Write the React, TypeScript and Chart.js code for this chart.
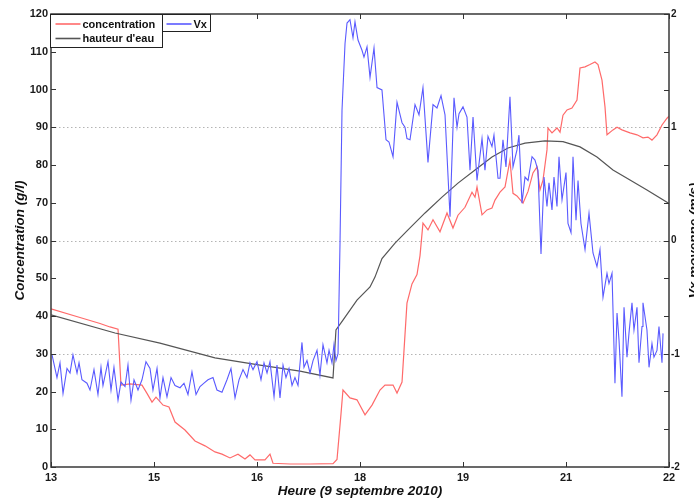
import React, { useEffect, useRef } from 'react';
import { Chart, registerables } from 'chart.js';

Chart.register(...registerables);

// ---------- data (hours of 9 Sept 2010) ----------
const concTime = [13.000, 13.422, 13.714, 13.859, 13.976, 14.019, 14.150, 14.325, 14.398, 14.471, 14.529, 14.631, 14.718, 14.806, 14.951, 15.097, 15.243, 15.388, 15.490, 15.607, 15.723, 15.825, 15.898, 15.971, 16.116, 16.189, 16.233, 16.481, 16.772, 17.107, 17.165, 17.223, 17.252, 17.354, 17.456, 17.573, 17.675, 17.791, 17.864, 17.981, 18.039, 18.112, 18.155, 18.184, 18.257, 18.330, 18.374, 18.417, 18.490, 18.563, 18.665, 18.767, 18.854, 18.927, 19.029, 19.131, 19.175, 19.204, 19.277, 19.349, 19.422, 19.466, 19.539, 19.612, 19.684, 19.728, 19.786, 19.874, 19.947, 20.019, 20.078, 20.121, 20.165, 20.223, 20.238, 20.296, 20.369, 20.413, 20.456, 20.515, 20.587, 20.660, 20.704, 20.777, 20.849, 20.922, 20.966, 21.024, 21.068, 21.097, 21.184, 21.243, 21.315, 21.432, 21.534, 21.621, 21.694, 21.752, 21.825, 21.898, 21.971, 22.000];
const concValue = [41.9, 39.6, 38.0, 37.1, 36.5, 21.7, 22.0, 21.7, 19.5, 17.2, 18.5, 16.4, 15.9, 11.9, 9.8, 6.9, 5.6, 4.0, 3.4, 2.4, 3.4, 2.1, 3.2, 1.9, 1.9, 3.4, 1.0, 0.8, 0.8, 0.9, 2.0, 14.0, 20.4, 18.3, 17.8, 13.8, 16.4, 20.4, 21.7, 21.7, 19.6, 22.5, 35.0, 43.4, 48.5, 51.0, 56.0, 64.6, 62.8, 65.5, 62.3, 67.3, 63.3, 66.7, 68.8, 72.8, 71.5, 74.2, 66.8, 68.1, 68.6, 70.7, 72.8, 74.2, 81.3, 72.5, 71.8, 69.9, 73.0, 77.9, 79.5, 73.4, 76.0, 84.0, 89.8, 88.5, 89.8, 88.7, 93.2, 94.6, 95.1, 97.2, 105.7, 106.0, 106.6, 107.3, 106.6, 102.5, 95.4, 88.0, 89.3, 90.0, 89.3, 88.5, 88.0, 87.2, 87.4, 86.6, 88.0, 90.6, 92.4, 92.9];

const hauteurTime = [13.000, 13.932, 14.587, 15.388, 16.044, 16.626, 17.107, 17.150, 17.252, 17.456, 17.646, 17.718, 17.820, 18.010, 18.199, 18.447, 18.694, 18.927, 19.175, 19.422, 19.655, 19.903, 20.194, 20.456, 20.704, 20.951, 21.184, 21.432, 21.679, 22.000];
const hauteurValue = [40.3, 35.5, 32.8, 28.9, 27.0, 25.4, 23.6, 36.3, 38.9, 44.2, 47.7, 50.3, 55.2, 59.3, 62.8, 67.3, 71.5, 75.2, 78.7, 82.1, 84.5, 85.8, 86.4, 86.2, 84.8, 82.1, 78.7, 76.0, 73.4, 69.8];

const vxTime = [13.015, 13.087, 13.131, 13.175, 13.233, 13.277, 13.320, 13.379, 13.408, 13.451, 13.524, 13.568, 13.626, 13.684, 13.728, 13.757, 13.830, 13.874, 13.917, 13.976, 14.019, 14.078, 14.121, 14.165, 14.209, 14.267, 14.325, 14.383, 14.442, 14.485, 14.544, 14.587, 14.631, 14.689, 14.748, 14.806, 14.879, 14.937, 14.995, 15.053, 15.112, 15.170, 15.228, 15.286, 15.359, 15.417, 15.490, 15.563, 15.621, 15.680, 15.738, 15.796, 15.854, 15.898, 15.942, 16.000, 16.058, 16.102, 16.146, 16.189, 16.248, 16.291, 16.335, 16.379, 16.422, 16.466, 16.510, 16.553, 16.597, 16.655, 16.684, 16.728, 16.772, 16.816, 16.874, 16.917, 16.961, 17.019, 17.049, 17.092, 17.121, 17.150, 17.180, 17.209, 17.238, 17.282, 17.311, 17.354, 17.398, 17.427, 17.471, 17.529, 17.558, 17.602, 17.646, 17.704, 17.748, 17.820, 17.879, 17.922, 17.981, 18.039, 18.112, 18.155, 18.184, 18.228, 18.301, 18.359, 18.417, 18.490, 18.563, 18.621, 18.680, 18.738, 18.811, 18.869, 18.913, 18.942, 19.000, 19.058, 19.102, 19.146, 19.204, 19.277, 19.320, 19.364, 19.422, 19.451, 19.510, 19.539, 19.582, 19.626, 19.684, 19.728, 19.786, 19.815, 19.859, 19.903, 19.947, 20.005, 20.048, 20.092, 20.136, 20.180, 20.223, 20.252, 20.296, 20.325, 20.369, 20.398, 20.442, 20.500, 20.529, 20.573, 20.602, 20.646, 20.675, 20.718, 20.777, 20.835, 20.893, 20.951, 20.995, 21.039, 21.097, 21.126, 21.170, 21.213, 21.243, 21.272, 21.315, 21.345, 21.388, 21.417, 21.461, 21.490, 21.534, 21.563, 21.607, 21.621, 21.679, 21.709, 21.752, 21.781, 21.825, 21.854, 21.898, 21.913];
const vxValue = [-1.01, -1.21, -1.08, -1.35, -1.13, -1.17, -1.01, -1.17, -1.08, -1.23, -1.26, -1.32, -1.14, -1.36, -1.12, -1.28, -1.07, -1.32, -1.12, -1.41, -1.25, -1.29, -1.10, -1.41, -1.23, -1.32, -1.23, -1.07, -1.13, -1.32, -1.13, -1.39, -1.21, -1.38, -1.21, -1.28, -1.30, -1.26, -1.36, -1.16, -1.36, -1.29, -1.26, -1.23, -1.21, -1.32, -1.34, -1.23, -1.13, -1.39, -1.23, -1.14, -1.21, -1.08, -1.14, -1.07, -1.23, -1.08, -1.17, -1.07, -1.38, -1.10, -1.39, -1.10, -1.21, -1.13, -1.28, -1.21, -1.28, -0.90, -1.12, -1.06, -1.17, -1.06, -0.97, -1.19, -0.92, -1.08, -0.97, -1.08, -0.92, -1.06, -1.00, -0.02, 1.15, 1.74, 1.92, 1.95, 1.79, 1.93, 1.77, 1.68, 1.62, 1.71, 1.44, 1.70, 1.35, 1.33, 0.89, 0.87, 0.74, 1.22, 1.04, 1.00, 0.90, 0.89, 1.20, 1.11, 1.35, 0.69, 1.20, 1.17, 1.28, 1.11, 0.21, 1.26, 1.00, 1.12, 1.18, 1.09, 0.62, 1.09, 0.53, 0.90, 0.62, 0.92, 0.83, 0.93, 0.55, 0.55, 0.89, 0.65, 1.27, 0.65, 0.80, 0.93, 0.33, 0.56, 0.53, 0.74, 0.71, 0.62, -0.12, 0.56, 0.30, 0.51, 0.27, 0.56, 0.30, 0.74, 0.36, 0.60, 0.15, 0.07, 0.74, 0.18, 0.53, 0.15, -0.08, 0.24, -0.11, -0.23, -0.08, -0.50, -0.29, -0.38, -0.29, -1.26, -0.64, -0.88, -1.38, -0.59, -1.03, -0.82, -0.55, -0.79, -0.59, -1.08, -0.76, -0.55, -0.79, -1.12, -0.91, -1.03, -0.97, -0.76, -1.08, -0.82];

const seriesNames = ['concentration', "hauteur d'eau", 'Vx'];
const seriesColors = ['#ff6a6a', '#555555', '#5a5aff'];

// ---------- axes ----------
const xTickValues = [13, 14.5, 16, 17.5, 19, 20.5, 22];
const xTickLabels = ['13', '15', '16', '18', '19', '21', '22'];
const concTickValues = [0, 10, 20, 30, 40, 50, 60, 70, 80, 90, 100, 110, 120];
const concTickLabels = ['0', '10', '20', '30', '40', '50', '60', '70', '80', '90', '100', '110', '120'];
const vxTickValues = [-2, -5 / 3, -4 / 3, -1, -2 / 3, -1 / 3, 0, 1 / 3, 2 / 3, 1, 4 / 3, 5 / 3, 2];
const vxTickLabels = ['-2', '', '', '-1', '', '', '0', '', '', '1', '', '', '2'];
const vxGridValues = [-1, 0, 1];

const xTitle = 'Heure (9 septembre 2010)';
const concTitle = 'Concentration (g/l)';
const vxTitle = 'Vx moyenne (m/s)';

const FONT = "'Liberation Sans', Arial, Helvetica, sans-serif";

const matlabPlugin = {
  id: 'matlabLook',
  beforeDatasetsDraw(chart: any) {
    const { ctx, chartArea: a, scales } = chart;
    const yr = scales.yVx;
    ctx.save();
    ctx.strokeStyle = '#b4b4b4';
    ctx.lineWidth = 1;
    ctx.setLineDash([1.5, 2.5]);
    for (const v of vxGridValues) {
      const y = Math.round(yr.getPixelForValue(v)) + 0.5;
      ctx.beginPath();
      ctx.moveTo(a.left, y);
      ctx.lineTo(a.right, y);
      ctx.stroke();
    }
    ctx.restore();
  },
  afterDatasetsDraw(chart: any) {
    const { ctx, chartArea: a, scales } = chart;
    ctx.save();
    // frame
    ctx.strokeStyle = '#444';
    ctx.lineWidth = 1.6;
    ctx.strokeRect(a.left, a.top, a.right - a.left, a.bottom - a.top);
    // inward ticks
    ctx.lineWidth = 1;
    ctx.strokeStyle = '#333';
    const TL = 5;
    ctx.beginPath();
    for (const t of scales.x.ticks) {
      const px = Math.round(scales.x.getPixelForValue(t.value)) + 0.5;
      ctx.moveTo(px, a.bottom);
      ctx.lineTo(px, a.bottom - TL);
      ctx.moveTo(px, a.top);
      ctx.lineTo(px, a.top + TL);
    }
    for (const t of scales.yConc.ticks) {
      const py = Math.round(scales.yConc.getPixelForValue(t.value)) + 0.5;
      ctx.moveTo(a.left, py);
      ctx.lineTo(a.left + TL, py);
    }
    for (const t of scales.yVx.ticks) {
      const py = Math.round(scales.yVx.getPixelForValue(t.value)) + 0.5;
      ctx.moveTo(a.right, py);
      ctx.lineTo(a.right - TL, py);
    }
    ctx.stroke();

    // legend boxes
    const lx = a.left - 0.5;
    const ly = a.top + 0.5;
    ctx.fillStyle = '#fff';
    ctx.strokeStyle = '#222';
    ctx.lineWidth = 1;
    ctx.fillRect(lx, ly, 112, 33);
    ctx.strokeRect(lx, ly, 112, 33);
    ctx.fillRect(lx + 112, ly, 48, 17);
    ctx.strokeRect(lx + 112, ly, 48, 17);
    ctx.font = `bold 11px ${FONT}`;
    ctx.textBaseline = 'middle';
    ctx.textAlign = 'left';
    const rows = [
      { i: 0, x: lx + 5, y: ly + 9.5 },
      { i: 1, x: lx + 5, y: ly + 24 },
      { i: 2, x: lx + 116, y: ly + 9.5 },
    ];
    for (const r of rows) {
      ctx.strokeStyle = seriesColors[r.i];
      ctx.lineWidth = 1.6;
      ctx.beginPath();
      ctx.moveTo(r.x, r.y);
      ctx.lineTo(r.x + 25, r.y);
      ctx.stroke();
      ctx.fillStyle = '#111';
      ctx.fillText(seriesNames[r.i], r.x + 27, r.y + 0.5);
    }

    // axis titles
    ctx.fillStyle = '#111';
    ctx.font = `italic bold 13.5px ${FONT}`;
    ctx.textAlign = 'center';
    ctx.textBaseline = 'middle';
    ctx.fillText(xTitle, (a.left + a.right) / 2, 491);

    ctx.save();
    ctx.translate(20, (a.top + a.bottom) / 2);
    ctx.rotate(-Math.PI / 2);
    ctx.fillText(concTitle, 0, 0);
    ctx.restore();

    ctx.save();
    ctx.translate(698, (a.top + a.bottom) / 2);
    ctx.rotate(-Math.PI / 2);
    ctx.textBaseline = 'alphabetic';
    ctx.fillText(vxTitle, 0, 0);
    ctx.restore();

    ctx.restore();
  },
};

function pairs(xs: number[], ys: number[]) {
  return xs.map((x, i) => ({ x, y: ys[i] }));
}

export default function App() {
  const ref = useRef<HTMLCanvasElement | null>(null);

  useEffect(() => {
    if (!ref.current) return;
    const tickFont = { family: FONT, size: 11, weight: 'bold' as const };
    const noGrid = { display: false, drawTicks: false, tickLength: 0 };
    const chart = new Chart(ref.current, {
      type: 'line',
      data: {
        datasets: [
          {
            label: seriesNames[0],
            data: pairs(concTime, concValue),
            yAxisID: 'yConc',
            borderColor: seriesColors[0],
            borderWidth: 1.2,
            pointRadius: 0,
            tension: 0,
            order: 2,
          },
          {
            label: seriesNames[1],
            data: pairs(hauteurTime, hauteurValue),
            yAxisID: 'yConc',
            borderColor: seriesColors[1],
            borderWidth: 1.2,
            pointRadius: 0,
            tension: 0,
            order: 1,
          },
          {
            label: seriesNames[2],
            data: pairs(vxTime, vxValue),
            yAxisID: 'yVx',
            borderColor: seriesColors[2],
            borderWidth: 1.1,
            pointRadius: 0,
            tension: 0,
            order: 0,
          },
        ],
      },
      options: {
        animation: false,
        responsive: false,
        events: [],
        layout: { padding: { top: 14, left: 0, right: 0, bottom: 0 } },
        plugins: { legend: { display: false }, tooltip: { enabled: false }, title: { display: false } },
        scales: {
          x: {
            type: 'linear',
            min: 13,
            max: 22,
            grid: noGrid,
            border: { display: false },
            afterBuildTicks: (s: any) => {
              s.ticks = xTickValues.map((v) => ({ value: v }));
            },
            afterFit: (s: any) => {
              s.height = 31;
            },
            ticks: {
              autoSkip: false,
              maxRotation: 0,
              padding: 4,
              color: '#1a1a1a',
              font: tickFont,
              callback: (_v: any, i: number) => xTickLabels[i],
            },
          },
          yConc: {
            type: 'linear',
            position: 'left',
            min: 0,
            max: 120,
            grid: noGrid,
            border: { display: false },
            afterBuildTicks: (s: any) => {
              s.ticks = concTickValues.map((v) => ({ value: v }));
            },
            afterFit: (s: any) => {
              s.width = 51;
            },
            ticks: {
              autoSkip: false,
              padding: 3,
              color: '#1a1a1a',
              font: tickFont,
              callback: (_v: any, i: number) => concTickLabels[i],
            },
          },
          yVx: {
            type: 'linear',
            position: 'right',
            min: -2,
            max: 2,
            grid: noGrid,
            border: { display: false },
            afterBuildTicks: (s: any) => {
              s.ticks = vxTickValues.map((v) => ({ value: v }));
            },
            afterFit: (s: any) => {
              s.width = 25;
            },
            ticks: {
              autoSkip: false,
              padding: 2,
              color: '#1a1a1a',
              font: { family: FONT, size: 10, weight: 'bold' as const },
              callback: (_v: any, i: number) => vxTickLabels[i],
            },
          },
        },
      },
      plugins: [matlabPlugin],
    } as any);
    return () => chart.destroy();
  }, []);

  return (
    <div style={{ position: 'absolute', left: 0, top: 0, width: 694, height: 498, background: '#fff', overflow: 'hidden' }}>
      <canvas ref={ref} width={694} height={498} style={{ display: 'block', width: 694, height: 498 }} />
    </div>
  );
}
